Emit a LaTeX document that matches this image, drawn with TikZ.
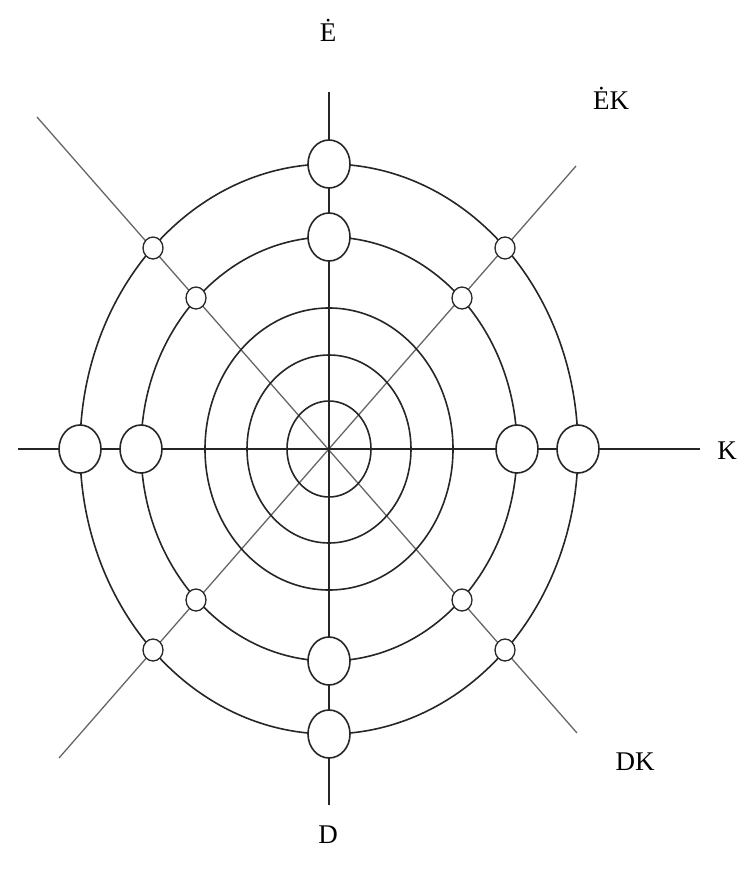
\documentclass[tikz,border=0pt]{standalone}
\usepackage{fontspec}
\setmainfont{Liberation Serif}
\usetikzlibrary{shapes.geometric}
\begin{document}
\begin{tikzpicture}[x=1pt,y=-1pt,
  axis/.style={line width=1.6pt,black!85},
  diag/.style={line width=1.3pt,black!60},
  ring/.style={line width=1.6pt,black!85},
  bignode/.style={ellipse,draw=black!85,line width=1.6pt,fill=white,minimum width=42pt,minimum height=48pt,inner sep=0pt},
  smallnode/.style={ellipse,draw=black!85,line width=1.3pt,fill=white,minimum width=20pt,minimum height=22pt,inner sep=0pt},
  lbl/.style={font=\fontsize{27}{32}\selectfont,inner sep=0pt}]
\useasboundingbox (0,0) rectangle (747,869);
\coordinate (c) at (329,449);
\coordinate (n) at (329,92);
\coordinate (s) at (329,805);
\coordinate (w) at (18,449);
\coordinate (e) at (700,449);
\coordinate (nw) at (37,117);
\coordinate (se) at (577,733);
\coordinate (ne) at (576,166);
\coordinate (sw) at (59,758);
% diagonals
\draw[diag] (nw) -- (se);
\draw[diag] (ne) -- (sw);
% axes
\draw[axis] (n) -- (s);
\draw[axis] (w) -- (e);
% rings
\draw[ring] (c) ellipse [x radius=42pt, y radius=48pt];
\draw[ring] (c) ellipse [x radius=82pt, y radius=94pt];
\draw[ring] (c) ellipse [x radius=124pt, y radius=141pt];
\draw[ring] (c) ellipse [x radius=188pt, y radius=212pt];
\draw[ring] (c) ellipse [x radius=249pt, y radius=285pt];
% big nodes on axes
\node[bignode] (t5) at (329,164) {};
\node[bignode] (t4) at (329,237) {};
\node[bignode] (b4) at (329,661) {};
\node[bignode] (b5) at (329,734) {};
\node[bignode] (l5) at (80,449) {};
\node[bignode] (l4) at (141,449) {};
\node[bignode] (r4) at (517,449) {};
\node[bignode] (r5) at (578,449) {};
% small nodes on diagonals
\node[smallnode] (ul5) at (153,248) {};
\node[smallnode] (ur5) at (505,248) {};
\node[smallnode] (ll5) at (153,650) {};
\node[smallnode] (lr5) at (505,650) {};
\node[smallnode] (ul4) at (196,298) {};
\node[smallnode] (ur4) at (462,298) {};
\node[smallnode] (ll4) at (196,600) {};
\node[smallnode] (lr4) at (462,600) {};
% labels
\node[lbl] (lE) at (328,30) {Ė};
\node[lbl] (lEK) at (611,98) {ĖK};
\node[lbl] (lK) at (727,451) {K};
\node[lbl] (lDK) at (635,762) {DK};
\node[lbl] (lD) at (328,835) {D};
\end{tikzpicture}
\end{document}
